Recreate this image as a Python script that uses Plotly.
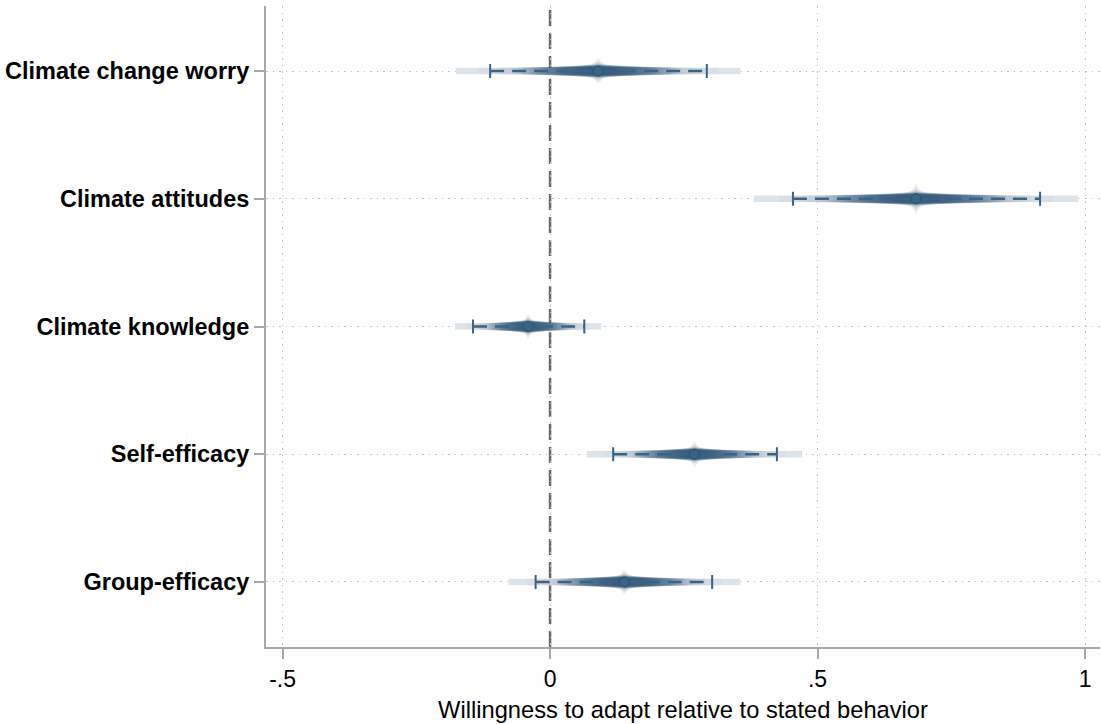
import numpy as np
import plotly.graph_objects as go
from statistics import NormalDist

# Coefficients and 95% confidence intervals
labels = ["Climate change worry", "Climate attitudes", "Climate knowledge",
          "Self-efficacy", "Group-efficacy"]
coef = [0.090, 0.684, -0.041, 0.270, 0.139]
ci_lo = [-0.112, 0.454, -0.144, 0.118, -0.027]
ci_hi = [0.293, 0.916, 0.064, 0.424, 0.303]

x_tickvals = [-0.5, 0, 0.5, 1]
x_ticktext = ["-.5", "0", ".5", "1"]
x_title = "Willingness to adapt relative to stated behavior"

BLUE = (59, 98, 129)
GRID = "#c4c4c4"
AXIS = "#a8a8a8"
FONT = "Arial, Liberation Sans, sans-serif"

z95 = NormalDist().inv_cdf(0.975)
se = [(h - l) / (2 * z95) for l, h in zip(ci_lo, ci_hi)]


def band_width(z):
    return 6 + 8 * np.exp(-z / 0.8) + 22 * np.exp(-z / 0.05)


fig = go.Figure()

levels = np.arange(99, 0, -2)

# Opaque white underlay so grid lines do not show through the bands
z_max = NormalDist().inv_cdf(0.5 + levels[0] / 200)
xs, ys = [], []
for lab, b, s in zip(labels, coef, se):
    xs += [b - z_max * s, b + z_max * s, None]
    ys += [lab, lab, None]
fig.add_trace(go.Scatter(
    x=xs, y=ys, mode="lines", hoverinfo="skip", showlegend=False,
    line=dict(color="white", width=band_width(z_max)),
))

# Smoothed confidence intervals: many nested CI levels, the narrower
# ones drawn thicker so the overlap builds up a tapered shape.
for L in levels:
    z = NormalDist().inv_cdf(0.5 + L / 200)
    if L == 99:
        a = 0.17
    elif L >= 87:
        a = 0.035
    else:
        a = 0.085
    xs, ys = [], []
    for lab, b, s in zip(labels, coef, se):
        xs += [b - z * s, b + z * s, None]
        ys += [lab, lab, None]
    fig.add_trace(go.Scatter(
        x=xs, y=ys, mode="lines", hoverinfo="skip", showlegend=False,
        line=dict(color=f"rgba({BLUE[0]},{BLUE[1]},{BLUE[2]},{a})",
                  width=band_width(z)),
    ))

# 95% CI: dashed line with caps
xs, ys = [], []
for lab, l, h in zip(labels, ci_lo, ci_hi):
    xs += [l, h, None]
    ys += [lab, lab, None]
fig.add_trace(go.Scatter(
    x=xs, y=ys, mode="lines", hoverinfo="skip", showlegend=False,
    line=dict(color=f"rgb{BLUE}", width=2.5, dash="14px,8px"),
))
fig.add_trace(go.Scatter(
    x=ci_lo + ci_hi, y=labels + labels, mode="markers", showlegend=False,
    marker=dict(symbol="line-ns", size=10,
                line=dict(color=f"rgb{BLUE}", width=2)),
))

# Point estimates
fig.add_trace(go.Scatter(
    x=coef, y=labels, mode="markers", showlegend=False,
    marker=dict(symbol="circle", size=10, color=f"rgb{BLUE}",
                line=dict(color="rgb(45,80,108)", width=1)),
))

# Reference line at zero
fig.add_vline(x=0, line=dict(color="#6a6a6a", width=2.5, dash="16px,7px"),
              layer="below")

fig.update_layout(
    width=1101, height=724,
    margin=dict(l=266, r=1, t=6, b=77),
    paper_bgcolor="white", plot_bgcolor="white",
    font=dict(family=FONT, color="black"),
    xaxis=dict(
        range=[-0.531, 1.028], tickvals=x_tickvals, ticktext=x_ticktext,
        tickfont=dict(size=23), ticks="outside", ticklen=10, tickwidth=2,
        tickcolor=AXIS, showline=True, linecolor=AXIS, linewidth=2,
        showgrid=True, gridcolor=GRID, gridwidth=1, griddash="1.5px,5px",
        zeroline=False, title=dict(text=x_title, font=dict(size=23.7), standoff=11),
    ),
    yaxis=dict(
        type="category", categoryorder="array", categoryarray=labels,
        range=[4.509, -0.509], tickfont=dict(size=23.5, weight="bold"),
        ticks="outside", ticklen=10, tickwidth=2, tickcolor=AXIS,
        showline=True, linecolor=AXIS, linewidth=2,
        showgrid=True, gridcolor=GRID, gridwidth=1, griddash="1.5px,5px",
        zeroline=False,
    ),
)

fig.write_html("out.html")
